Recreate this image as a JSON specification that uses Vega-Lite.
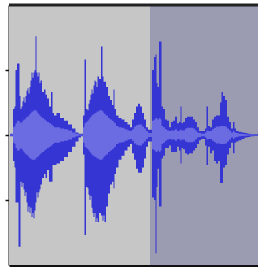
{
"$schema": "https://vega.github.io/schema/vega-lite/v6.json",
"width": 249, "height": 260,
"autosize": {"type": "none"},
"padding": {"left": 9, "top": 5, "right": 0, "bottom": 5},
"background": "white",
"config": {"view": {"stroke": null}},
"datasets": {
"sel": [{"start": 9, "end": 150, "state": "unselected"}, {"start": 150, "end": 258, "state": "selected"}],
"wave": [
{"t":10,"hi":0.01,"lo":-0.01,"rhi":0.004,"rlo":-0.004},
{"t":12,"hi":0.01,"lo":-0.01,"rhi":0.004,"rlo":-0.004},
{"t":14,"hi":0.2,"lo":-0.2,"rhi":0.06,"rlo":-0.06},
{"t":15,"hi":0.22,"lo":-0.25,"rhi":0.07,"rlo":-0.07},
{"t":16,"hi":0.5,"lo":-0.52,"rhi":0.09,"rlo":-0.1},
{"t":18,"hi":0.55,"lo":-0.52,"rhi":0.11,"rlo":-0.12},
{"t":19,"hi":0.55,"lo":-0.86,"rhi":0.11,"rlo":-0.12},
{"t":20,"hi":0.3,"lo":-0.86,"rhi":0.1,"rlo":-0.11},
{"t":21,"hi":0.2,"lo":-0.36,"rhi":0.09,"rlo":-0.1},
{"t":22,"hi":0.22,"lo":-0.4,"rhi":0.1,"rlo":-0.11},
{"t":23,"hi":0.26,"lo":-0.37,"rhi":0.11,"rlo":-0.12},
{"t":24,"hi":0.29,"lo":-0.42,"rhi":0.12,"rlo":-0.13},
{"t":25,"hi":0.25,"lo":-0.47,"rhi":0.12,"rlo":-0.14},
{"t":26,"hi":0.3,"lo":-0.44,"rhi":0.13,"rlo":-0.15},
{"t":27,"hi":0.34,"lo":-0.52,"rhi":0.14,"rlo":-0.15},
{"t":28,"hi":0.36,"lo":-0.59,"rhi":0.14,"rlo":-0.16},
{"t":29,"hi":0.32,"lo":-0.55,"rhi":0.15,"rlo":-0.17},
{"t":30,"hi":0.37,"lo":-0.6,"rhi":0.16,"rlo":-0.18},
{"t":31,"hi":0.42,"lo":-0.56,"rhi":0.17,"rlo":-0.18},
{"t":32,"hi":0.48,"lo":-0.63,"rhi":0.18,"rlo":-0.19},
{"t":33,"hi":0.44,"lo":-0.6,"rhi":0.18,"rlo":-0.19},
{"t":34,"hi":0.48,"lo":-0.64,"rhi":0.19,"rlo":-0.19},
{"t":35,"hi":0.5,"lo":-0.58,"rhi":0.19,"rlo":-0.19},
{"t":36,"hi":0.76,"lo":-0.52,"rhi":0.19,"rlo":-0.18},
{"t":37,"hi":0.48,"lo":-0.44,"rhi":0.18,"rlo":-0.17},
{"t":38,"hi":0.45,"lo":-0.48,"rhi":0.17,"rlo":-0.17},
{"t":39,"hi":0.48,"lo":-0.44,"rhi":0.16,"rlo":-0.16},
{"t":40,"hi":0.4,"lo":-0.42,"rhi":0.15,"rlo":-0.15},
{"t":41,"hi":0.42,"lo":-0.38,"rhi":0.14,"rlo":-0.14},
{"t":43,"hi":0.33,"lo":-0.33,"rhi":0.13,"rlo":-0.13},
{"t":45,"hi":0.35,"lo":-0.3,"rhi":0.12,"rlo":-0.12},
{"t":46,"hi":0.31,"lo":-0.33,"rhi":0.11,"rlo":-0.11},
{"t":48,"hi":0.28,"lo":-0.27,"rhi":0.1,"rlo":-0.1},
{"t":50,"hi":0.22,"lo":-0.36,"rhi":0.09,"rlo":-0.09},
{"t":52,"hi":0.33,"lo":-0.36,"rhi":0.08,"rlo":-0.08},
{"t":53,"hi":0.17,"lo":-0.23,"rhi":0.07,"rlo":-0.07},
{"t":55,"hi":0.15,"lo":-0.23,"rhi":0.06,"rlo":-0.06},
{"t":58,"hi":0.17,"lo":-0.22,"rhi":0.06,"rlo":-0.06},
{"t":62,"hi":0.13,"lo":-0.2,"rhi":0.05,"rlo":-0.05},
{"t":66,"hi":0.11,"lo":-0.17,"rhi":0.045,"rlo":-0.045},
{"t":70,"hi":0.08,"lo":-0.13,"rhi":0.035,"rlo":-0.035},
{"t":74,"hi":0.05,"lo":-0.09,"rhi":0.02,"rlo":-0.02},
{"t":77,"hi":0.02,"lo":-0.05,"rhi":0.01,"rlo":-0.01},
{"t":80,"hi":0.01,"lo":-0.02,"rhi":0.004,"rlo":-0.004},
{"t":82,"hi":0.01,"lo":-0.01,"rhi":0.004,"rlo":-0.004},
{"t":84,"hi":0.15,"lo":-0.15,"rhi":0.06,"rlo":-0.06},
{"t":85,"hi":0.58,"lo":-0.77,"rhi":0.09,"rlo":-0.09},
{"t":87,"hi":0.2,"lo":-0.4,"rhi":0.1,"rlo":-0.1},
{"t":88,"hi":0.19,"lo":-0.41,"rhi":0.11,"rlo":-0.11},
{"t":89,"hi":0.24,"lo":-0.46,"rhi":0.12,"rlo":-0.12},
{"t":90,"hi":0.27,"lo":-0.5,"rhi":0.13,"rlo":-0.13},
{"t":91,"hi":0.31,"lo":-0.47,"rhi":0.14,"rlo":-0.14},
{"t":92,"hi":0.35,"lo":-0.56,"rhi":0.15,"rlo":-0.15},
{"t":93,"hi":0.32,"lo":-0.6,"rhi":0.16,"rlo":-0.16},
{"t":94,"hi":0.38,"lo":-0.63,"rhi":0.16,"rlo":-0.16},
{"t":95,"hi":0.42,"lo":-0.6,"rhi":0.17,"rlo":-0.17},
{"t":96,"hi":0.41,"lo":-0.67,"rhi":0.17,"rlo":-0.17},
{"t":97,"hi":0.37,"lo":-0.64,"rhi":0.18,"rlo":-0.18},
{"t":98,"hi":0.45,"lo":-0.67,"rhi":0.18,"rlo":-0.18},
{"t":100,"hi":0.43,"lo":-0.6,"rhi":0.19,"rlo":-0.19},
{"t":102,"hi":0.68,"lo":-0.62,"rhi":0.19,"rlo":-0.19},
{"t":103,"hi":0.45,"lo":-0.66,"rhi":0.18,"rlo":-0.18},
{"t":104,"hi":0.41,"lo":-0.62,"rhi":0.17,"rlo":-0.17},
{"t":105,"hi":0.41,"lo":-0.67,"rhi":0.16,"rlo":-0.16},
{"t":107,"hi":0.37,"lo":-0.55,"rhi":0.15,"rlo":-0.15},
{"t":109,"hi":0.3,"lo":-0.45,"rhi":0.13,"rlo":-0.13},
{"t":111,"hi":0.27,"lo":-0.38,"rhi":0.12,"rlo":-0.12},
{"t":113,"hi":0.23,"lo":-0.36,"rhi":0.11,"rlo":-0.11},
{"t":114,"hi":0.35,"lo":-0.41,"rhi":0.1,"rlo":-0.1},
{"t":115,"hi":0.2,"lo":-0.3,"rhi":0.09,"rlo":-0.09},
{"t":117,"hi":0.15,"lo":-0.25,"rhi":0.07,"rlo":-0.07},
{"t":120,"hi":0.13,"lo":-0.19,"rhi":0.06,"rlo":-0.06},
{"t":123,"hi":0.12,"lo":-0.16,"rhi":0.055,"rlo":-0.055},
{"t":126,"hi":0.1,"lo":-0.12,"rhi":0.045,"rlo":-0.045},
{"t":129,"hi":0.08,"lo":-0.09,"rhi":0.035,"rlo":-0.035},
{"t":131,"hi":0.06,"lo":-0.07,"rhi":0.03,"rlo":-0.03},
{"t":133,"hi":0.12,"lo":-0.14,"rhi":0.045,"rlo":-0.045},
{"t":135,"hi":0.17,"lo":-0.19,"rhi":0.065,"rlo":-0.065},
{"t":137,"hi":0.22,"lo":-0.26,"rhi":0.075,"rlo":-0.075},
{"t":139,"hi":0.24,"lo":-0.29,"rhi":0.08,"rlo":-0.08},
{"t":141,"hi":0.22,"lo":-0.29,"rhi":0.08,"rlo":-0.08},
{"t":143,"hi":0.17,"lo":-0.25,"rhi":0.065,"rlo":-0.065},
{"t":145,"hi":0.12,"lo":-0.18,"rhi":0.05,"rlo":-0.05},
{"t":147,"hi":0.06,"lo":-0.09,"rhi":0.03,"rlo":-0.03},
{"t":149,"hi":0.04,"lo":-0.05,"rhi":0.015,"rlo":-0.015},
{"t":151,"hi":0.04,"lo":-0.05,"rhi":0.015,"rlo":-0.015},
{"t":153,"hi":0.5,"lo":-0.48,"rhi":0.11,"rlo":-0.11},
{"t":155,"hi":0.6,"lo":-0.5,"rhi":0.12,"rlo":-0.12},
{"t":156,"hi":0.62,"lo":-0.91,"rhi":0.13,"rlo":-0.13},
{"t":157,"hi":0.4,"lo":-0.4,"rhi":0.13,"rlo":-0.13},
{"t":158,"hi":0.37,"lo":-0.26,"rhi":0.12,"rlo":-0.12},
{"t":160,"hi":0.72,"lo":-0.55,"rhi":0.13,"rlo":-0.13},
{"t":161,"hi":0.72,"lo":-0.55,"rhi":0.12,"rlo":-0.12},
{"t":162,"hi":0.22,"lo":-0.18,"rhi":0.07,"rlo":-0.07},
{"t":164,"hi":0.2,"lo":-0.16,"rhi":0.06,"rlo":-0.06},
{"t":166,"hi":0.12,"lo":-0.1,"rhi":0.045,"rlo":-0.045},
{"t":168,"hi":0.11,"lo":-0.1,"rhi":0.035,"rlo":-0.035},
{"t":170,"hi":0.06,"lo":-0.08,"rhi":0.03,"rlo":-0.03},
{"t":172,"hi":0.1,"lo":-0.13,"rhi":0.035,"rlo":-0.035},
{"t":174,"hi":0.11,"lo":-0.13,"rhi":0.035,"rlo":-0.035},
{"t":176,"hi":0.14,"lo":-0.13,"rhi":0.045,"rlo":-0.045},
{"t":178,"hi":0.09,"lo":-0.09,"rhi":0.03,"rlo":-0.03},
{"t":180,"hi":0.1,"lo":-0.12,"rhi":0.035,"rlo":-0.035},
{"t":181,"hi":0.22,"lo":-0.22,"rhi":0.045,"rlo":-0.045},
{"t":182,"hi":0.09,"lo":-0.1,"rhi":0.035,"rlo":-0.035},
{"t":184,"hi":0.1,"lo":-0.11,"rhi":0.035,"rlo":-0.035},
{"t":186,"hi":0.13,"lo":-0.14,"rhi":0.05,"rlo":-0.05},
{"t":188,"hi":0.14,"lo":-0.15,"rhi":0.055,"rlo":-0.055},
{"t":190,"hi":0.14,"lo":-0.14,"rhi":0.055,"rlo":-0.055},
{"t":192,"hi":0.14,"lo":-0.14,"rhi":0.055,"rlo":-0.055},
{"t":194,"hi":0.12,"lo":-0.12,"rhi":0.05,"rlo":-0.05},
{"t":196,"hi":0.1,"lo":-0.1,"rhi":0.035,"rlo":-0.035},
{"t":198,"hi":0.06,"lo":-0.07,"rhi":0.02,"rlo":-0.02},
{"t":200,"hi":0.03,"lo":-0.04,"rhi":0.015,"rlo":-0.015},
{"t":202,"hi":0.03,"lo":-0.03,"rhi":0.01,"rlo":-0.01},
{"t":204,"hi":0.03,"lo":-0.03,"rhi":0.01,"rlo":-0.01},
{"t":206,"hi":0.05,"lo":-0.08,"rhi":0.02,"rlo":-0.02},
{"t":207,"hi":0.22,"lo":-0.23,"rhi":0.035,"rlo":-0.035},
{"t":209,"hi":0.07,"lo":-0.09,"rhi":0.03,"rlo":-0.03},
{"t":211,"hi":0.06,"lo":-0.14,"rhi":0.03,"rlo":-0.03},
{"t":213,"hi":0.12,"lo":-0.12,"rhi":0.045,"rlo":-0.045},
{"t":215,"hi":0.14,"lo":-0.2,"rhi":0.055,"rlo":-0.055},
{"t":217,"hi":0.15,"lo":-0.22,"rhi":0.065,"rlo":-0.065},
{"t":219,"hi":0.15,"lo":-0.2,"rhi":0.065,"rlo":-0.065},
{"t":221,"hi":0.25,"lo":-0.37,"rhi":0.07,"rlo":-0.07},
{"t":222,"hi":0.33,"lo":-0.37,"rhi":0.07,"rlo":-0.07},
{"t":224,"hi":0.3,"lo":-0.25,"rhi":0.07,"rlo":-0.07},
{"t":226,"hi":0.27,"lo":-0.23,"rhi":0.065,"rlo":-0.065},
{"t":228,"hi":0.14,"lo":-0.15,"rhi":0.05,"rlo":-0.05},
{"t":230,"hi":0.1,"lo":-0.1,"rhi":0.035,"rlo":-0.035},
{"t":232,"hi":0.05,"lo":-0.06,"rhi":0.02,"rlo":-0.02},
{"t":234,"hi":0.1,"lo":-0.14,"rhi":0.03,"rlo":-0.03},
{"t":235,"hi":0.05,"lo":-0.06,"rhi":0.02,"rlo":-0.02},
{"t":237,"hi":0.03,"lo":-0.05,"rhi":0.015,"rlo":-0.015},
{"t":240,"hi":0.025,"lo":-0.04,"rhi":0.01,"rlo":-0.01},
{"t":243,"hi":0.02,"lo":-0.03,"rhi":0.008,"rlo":-0.008},
{"t":246,"hi":0.015,"lo":-0.02,"rhi":0.006,"rlo":-0.006},
{"t":249,"hi":0.01,"lo":-0.015,"rhi":0.004,"rlo":-0.004},
{"t":252,"hi":0.005,"lo":-0.01,"rhi":0.003,"rlo":-0.003},
{"t":256,"hi":0.005,"lo":-0.005,"rhi":0.002,"rlo":-0.002},
{"t":258,"hi":0.005,"lo":-0.005,"rhi":0.002,"rlo":-0.002}
]
},
"layer": [
{
"data": {"name": "sel"},
"mark": {"type": "rect"},
"encoding": {
"x": {"field": "start", "type": "quantitative", "scale": {"domain": [9, 258], "nice": false, "zero": false},
 "axis": {"orient": "bottom", "labels": false, "ticks": false, "grid": false, "title": null, "domainColor": "#111111", "domainWidth": 3}},
"x2": {"field": "end"},
"y": {"datum": 1, "type": "quantitative", "scale": {"domain": [-1, 1], "nice": false},
 "axis": {"values": [-0.5, 0, 0.5], "labels": false, "grid": false, "title": null, "tickSize": 4, "tickColor": "#111111", "tickWidth": 1.5, "domainColor": "#111111", "domainWidth": 2}},
"y2": {"datum": -1},
"color": {"field": "state", "type": "nominal", "scale": {"domain": ["unselected", "selected"], "range": ["#c6c6c6", "#9b9bb2"]}, "legend": null}
}
},
{
"data": {"name": "wave"},
"mark": {"type": "area", "interpolate": "step", "color": "#3535d4"},
"encoding": {
"x": {"field": "t", "type": "quantitative"},
"y": {"field": "hi", "type": "quantitative"},
"y2": {"field": "lo"}
}
},
{
"data": {"name": "wave"},
"mark": {"type": "area", "interpolate": "step", "color": "#6b6be2"},
"encoding": {
"x": {"field": "t", "type": "quantitative"},
"y": {"field": "rhi", "type": "quantitative"},
"y2": {"field": "rlo"}
}
},
{
"data": {"values": [{"edge": 1}]},
"mark": {"type": "rule", "color": "#222222", "strokeWidth": 3},
"encoding": {"y": {"field": "edge", "type": "quantitative"}}
}
]
}
